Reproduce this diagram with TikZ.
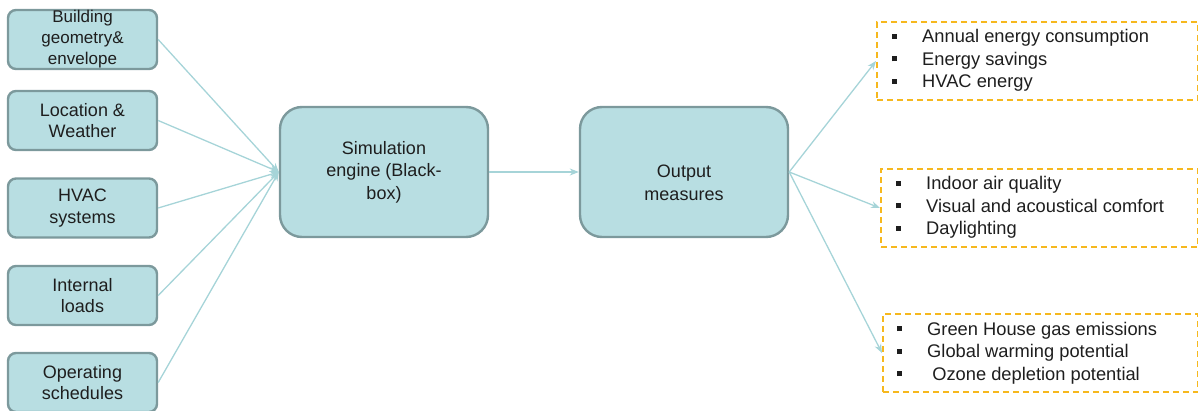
\documentclass[tikz,border=0pt]{standalone}
\usepackage{fontspec}
\setmainfont{Liberation Sans}
\usetikzlibrary{arrows.meta}
\definecolor{boxfill}{RGB}{184,222,226}
\definecolor{boxline}{RGB}{124,153,156}
\definecolor{linkcol}{RGB}{166,212,216}
\definecolor{dashcol}{RGB}{246,184,30}
\definecolor{inkcol}{RGB}{30,30,30}
\newcommand{\bulletsq}{\raisebox{4pt}{\rule{5pt}{5pt}}}
\tikzset{
  inbox/.style={draw=boxline, fill=boxfill, line width=2.4pt, rounded corners=8pt,
    minimum width=149pt, minimum height=59pt, inner sep=0pt, align=center,
    text=inkcol, font=\fontsize{18}{21.5}\selectfont},
  bigbox/.style={draw=boxline, fill=boxfill, line width=2.4pt, rounded corners=22pt,
    minimum width=208pt, minimum height=130pt, inner sep=0pt, align=center,
    text=inkcol, font=\fontsize{18}{22.5}\selectfont},
  listbox/.style={draw=dashcol, line width=2pt, dash pattern=on 6pt off 4pt,
    minimum height=78pt, inner sep=0pt, anchor=west},
  listtext/.style={anchor=west, inner sep=0pt, text=inkcol,
    font=\fontsize{18.3}{22.5}\selectfont},
  link/.style={draw=linkcol, line width=1.3pt, -{Stealth[length=9pt,width=7pt]}}
}
\begin{document}
\begin{tikzpicture}[x=1pt,y=-1pt]
\useasboundingbox (0,0) rectangle (1198,411);

% input boxes
\node[inbox, font=\fontsize{17}{21}\selectfont] (geo) at (82.5,39.5) {Building\\geometry\&\\envelope};
\node[inbox] (loc) at (82.5,120.5) {Location \&\\Weather};
\node[inbox] (hvac) at (82.5,208) {HVAC\\systems};
\node[inbox] (loads) at (82.5,295.5) {Internal\\loads};
\node[inbox] (sched) at (82.5,382.5) {Operating\\schedules};

% engine and outputs
\node[bigbox] (engine) at (384,172) {Simulation\\engine (Black-\\box)};
\node[bigbox] (out) at (684,172) {};
\node[align=center, text=inkcol, font=\fontsize{18}{22.5}\selectfont, inner sep=0pt]
  (outtxt) at (684,183) {Output\\measures};

% result lists
\node[listbox, minimum width=321pt] (r1) at (876,61) {};
\node[listbox, minimum width=317pt] (r2) at (880,208) {};
\node[listbox, minimum width=315pt] (r3) at (882,353) {};

\node[listtext] (t1) at (892,61) {\begin{tabular}{@{}p{30pt}@{}l@{}}
\bulletsq & Annual energy consumption\\
\bulletsq & Energy savings\\
\bulletsq & HVAC energy
\end{tabular}};
\node[listtext] (t2) at (896,208) {\begin{tabular}{@{}p{30pt}@{}l@{}}
\bulletsq & Indoor air quality\\
\bulletsq & Visual and acoustical comfort\\
\bulletsq & Daylighting
\end{tabular}};
\node[listtext] (t3) at (897,353) {\begin{tabular}{@{}p{30pt}@{}l@{}}
\bulletsq & Green House gas emissions\\
\bulletsq & Global warming potential\\
\bulletsq & \ Ozone depletion potential
\end{tabular}};

% connectors
\foreach \src in {geo,loc,hvac,loads,sched}
  \draw[link] (\src.east) -- (engine.west);
\draw[link] (engine.east) -- (out.west);
\draw[link] (out.east) -- (r1.west);
\draw[link] (out.east) -- (r2.west);
\draw[link] (out.east) -- (r3.west);
\end{tikzpicture}
\end{document}
